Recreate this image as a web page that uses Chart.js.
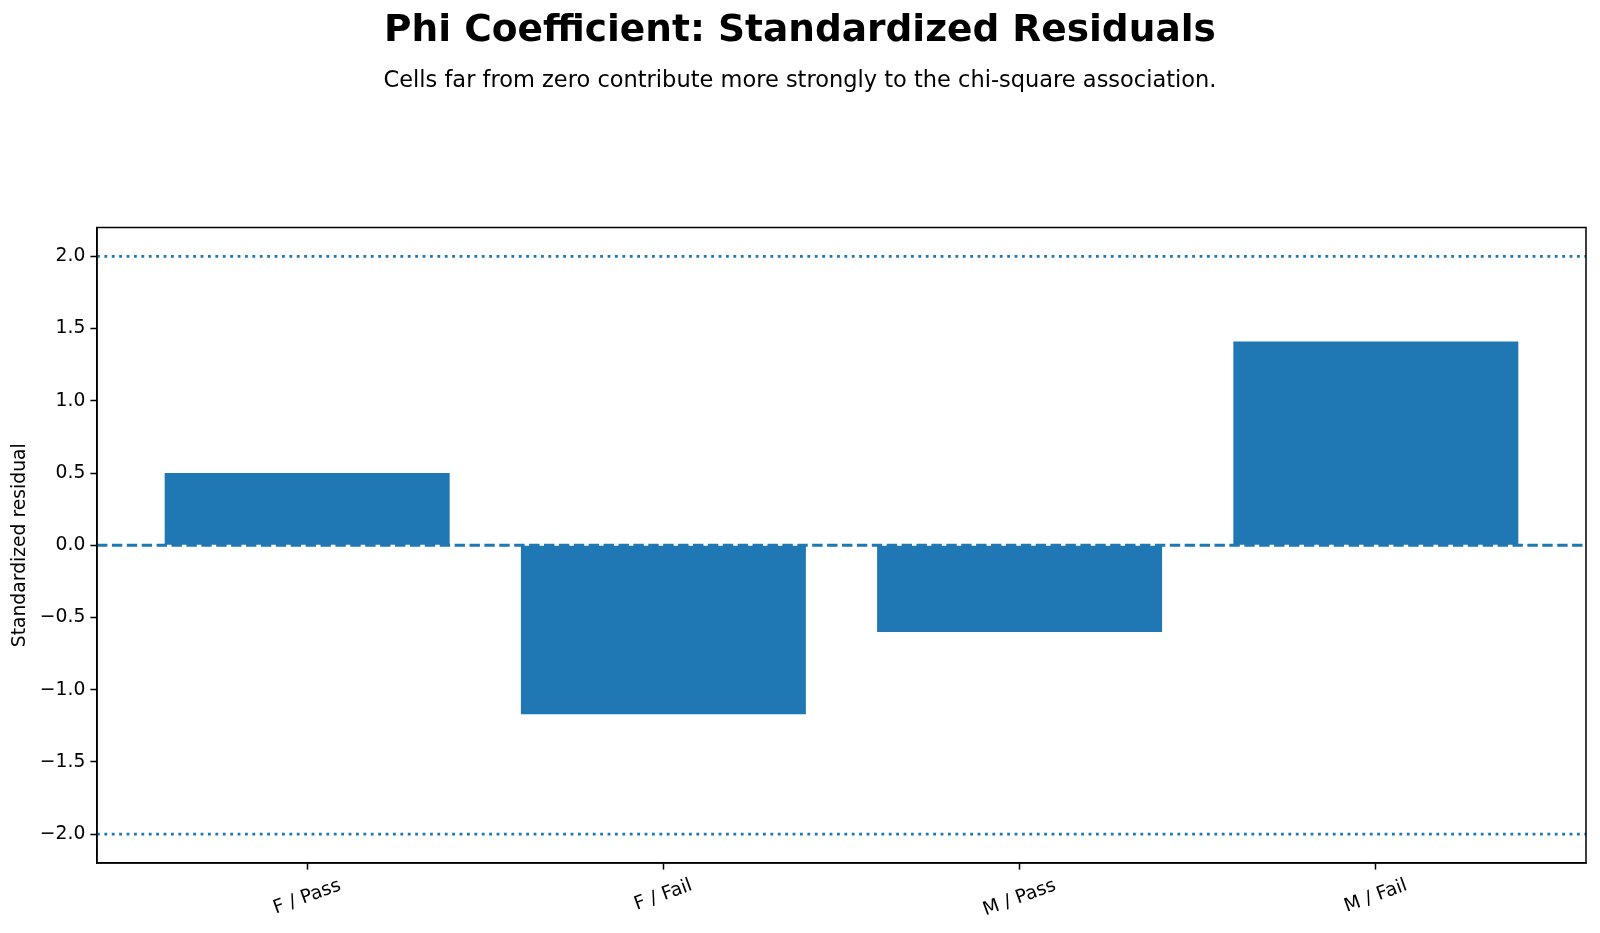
<!DOCTYPE html>
<html>
<head>
<meta charset="utf-8">
<script src="https://cdn.jsdelivr.net/npm/chart.js@4.4.1/dist/chart.umd.min.js"></script>
<style>
  body { margin: 0; background: #fff; }
  #wrap { width: 1600px; height: 933px; }
</style>
</head>
<body>
<div id="wrap"><canvas id="chart"></canvas></div>
<script>
/* Daten: Zellen der Kreuztabelle und ihre standardisierten Residuen */
const categories = ['F / Pass', 'F / Fail', 'M / Pass', 'M / Fail'];
const residuals = [0.50, -1.17, -0.60, 1.41];
const yTicks = [-2.0, -1.5, -1.0, -0.5, 0.0, 0.5, 1.0, 1.5, 2.0];
const refLevels = [-2, 2];   /* gepunktete Schwellen */
const zeroLevel = [0];       /* gestrichelte Nulllinie */

const blue = '#1f77b4';
const font = 'DejaVu Sans';
const tickSize = 18.75;

/* Hilfslinien, Rahmen und x-Beschriftungen zeichnen */
const extras = {
    id: 'extras',
    afterDatasetsDraw(chart) {
        const ctx = chart.ctx;
        const a = chart.chartArea;
        const y = chart.scales.y;
        const x = chart.scales.x;

        ctx.save();
        ctx.strokeStyle = blue;
        ctx.lineWidth = 2.8;
        ctx.setLineDash([10.4, 4.5]);
        zeroLevel.forEach(v => {
            const py = y.getPixelForValue(v);
            ctx.beginPath(); ctx.moveTo(a.left, py); ctx.lineTo(a.right, py); ctx.stroke();
        });
        ctx.setLineDash([2.8, 4.6]);
        refLevels.forEach(v => {
            const py = y.getPixelForValue(v);
            ctx.beginPath(); ctx.moveTo(a.left, py); ctx.lineTo(a.right, py); ctx.stroke();
        });
        ctx.restore();

        /* Rahmen um die Achsenfläche */
        ctx.save();
        ctx.strokeStyle = '#000';
        ctx.lineWidth = 1.5;
        ctx.strokeRect(a.left, a.top, a.right - a.left, a.bottom - a.top);
        ctx.restore();

        /* gedrehte Kategorienbeschriftung, mittig unter dem Tick */
        ctx.save();
        ctx.fillStyle = '#000';
        ctx.font = tickSize + 'px "' + font + '"';
        const ang = 20 * Math.PI / 180;
        categories.forEach((c, i) => {
            const px = x.getPixelForValue(i);
            const w = ctx.measureText(c).width;
            const boxH = w * Math.sin(ang) + tickSize * Math.cos(ang);
            const cy = a.bottom + 6.6 + 6.6 + boxH / 2;
            ctx.translate(px, cy);
            ctx.rotate(-ang);
            ctx.textAlign = 'center';
            ctx.textBaseline = 'middle';
            ctx.fillText(c, 0, 0);
            ctx.setTransform(1, 0, 0, 1, 0, 0);
        });
        ctx.restore();
    }
};

new Chart(document.getElementById('chart'), {
    type: 'bar',
    data: {
        datasets: [{
            data: categories.map((c, i) => ({ x: i, y: residuals[i] })),
            backgroundColor: blue,
            borderWidth: 0,
            barPercentage: 0.8,
            categoryPercentage: 1.0
        }]
    },
    plugins: [extras],
    options: {
        responsive: true,
        maintainAspectRatio: false,
        animation: false,
        /* symmetrisch, damit der Titel über der ganzen Abbildung zentriert ist */
        layout: { padding: { left: 14, right: 14, top: 0, bottom: 0 } },
        plugins: {
            legend: { display: false },
            tooltip: { enabled: false },
            title: {
                display: true,
                text: 'Phi Coefficient: Standardized Residuals',
                color: '#000',
                font: { family: font, size: 37.5, weight: 'bold', lineHeight: 1.2 },
                padding: { top: 8.5, bottom: 0 }
            },
            subtitle: {
                display: true,
                text: 'Cells far from zero contribute more strongly to the chi-square association.',
                color: '#000',
                font: { family: font, size: 22.5, lineHeight: 1.2 },
                padding: { top: 14.6, bottom: 132.4 }
            }
        },
        scales: {
            x: {
                type: 'linear',
                min: -0.59,
                max: 3.59,
                offset: false,
                afterBuildTicks: s => { s.ticks = categories.map((c, i) => ({ value: i })); },
                afterFit: s => { s.height = 70; },
                ticks: { display: false },
                grid: { display: true, offset: false, drawOnChartArea: false, drawTicks: true, tickLength: 6.6, tickColor: '#000', tickWidth: 1.5 },
                border: { display: true, color: '#000', width: 1.5 }
            },
            y: {
                min: -2.2,
                max: 2.2,
                afterBuildTicks: s => { s.ticks = yTicks.map(v => ({ value: v })); },
                afterFit: s => { s.width = 83; },
                ticks: {
                    color: '#000',
                    font: { family: font, size: tickSize },
                    padding: 5,
                    callback: v => v.toFixed(1).replace('-', '\u2212')
                },
                title: {
                    display: true,
                    text: 'Standardized residual',
                    color: '#000',
                    font: { family: font, size: tickSize, lineHeight: 1.2 },
                    padding: { top: -5.5, bottom: 0 }
                },
                grid: { display: true, drawOnChartArea: false, drawTicks: true, tickLength: 6.6, tickColor: '#000', tickWidth: 1.5 },
                border: { display: true, color: '#000', width: 1.5 }
            }
        }
    }
});
</script>
</body>
</html>
